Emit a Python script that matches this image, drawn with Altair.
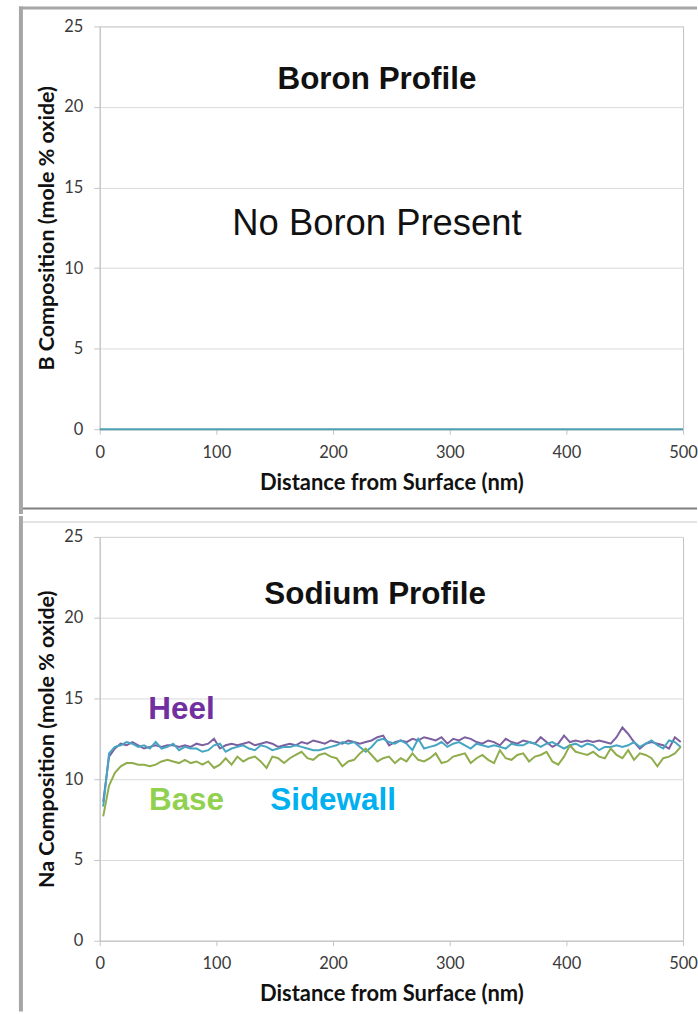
import altair as alt
import pandas as pd

# ---------------- data ----------------
distance_nm = [3, 8, 13, 18, 23, 28, 33, 38, 43, 48,
               53, 58, 63, 68, 73, 78, 83, 88, 93, 98,
               103, 108, 113, 118, 123, 128, 133, 138, 143, 148,
               153, 158, 163, 168, 173, 178, 183, 188, 193, 198,
               203, 208, 213, 218, 223, 228, 233, 238, 243, 248,
               253, 258, 263, 268, 273, 278, 283, 288, 293, 298,
               303, 308, 313, 318, 323, 328, 333, 338, 343, 348,
               353, 358, 363, 368, 373, 378, 383, 388, 393, 398,
               403, 408, 413, 418, 423, 428, 433, 438, 443, 448,
               453, 458, 463, 468, 473, 478, 483, 488, 493, 498]

heel = [8.6, 11.4, 11.9, 12.2, 12.1, 12.3, 12.1, 11.9, 12.0, 12.1,
        12.0, 12.1, 12.1, 12.0, 12.1, 12.0, 12.2, 12.1, 12.2, 12.5,
        11.9, 12.1, 12.2, 12.1, 12.2, 12.3, 12.1, 12.2, 12.3, 12.2,
        12.0, 12.1, 12.2, 12.1, 12.3, 12.2, 12.4, 12.3, 12.2, 12.4,
        12.3, 12.2, 12.4, 12.3, 12.2, 12.3, 12.4, 12.6, 12.7, 12.1,
        12.3, 12.4, 12.3, 12.5, 12.4, 12.6, 12.5, 12.4, 12.6, 12.2,
        12.5, 12.4, 12.6, 12.5, 12.3, 12.2, 12.4, 12.3, 12.1, 12.5,
        12.3, 12.2, 12.4, 12.3, 12.2, 12.6, 12.3, 12.0, 12.2, 12.7,
        12.3, 12.4, 12.3, 12.4, 12.3, 12.4, 12.3, 12.2, 12.6, 13.2,
        12.8, 12.3, 11.9, 12.2, 12.3, 12.2, 12.1, 11.9, 12.6, 12.3]

sidewall = [8.3, 11.6, 12.0, 12.1, 12.3, 12.2, 12.0, 12.1, 11.9, 12.3,
            11.9, 12.0, 12.2, 11.8, 12.0, 11.9, 11.9, 11.7, 11.8, 12.1,
            12.2, 11.7, 11.9, 12.0, 12.1, 11.9, 11.8, 12.1, 12.0, 11.8,
            11.9, 12.0, 12.0, 12.1, 12.0, 11.9, 11.8, 11.8, 11.9, 12.0,
            12.1, 12.3, 12.2, 12.3, 12.0, 11.7, 12.0, 12.4, 12.5, 12.3,
            12.2, 12.4, 12.2, 11.8, 12.5, 11.9, 12.0, 12.1, 12.3, 12.0,
            12.2, 12.3, 12.1, 11.9, 12.2, 12.1, 12.0, 12.1, 12.0, 11.9,
            12.2, 12.1, 12.1, 12.3, 12.2, 12.0, 12.2, 12.3, 12.1, 11.9,
            12.1, 12.2, 12.0, 12.2, 12.1, 11.8, 12.0, 12.0, 12.1, 12.0,
            12.1, 12.3, 12.0, 12.2, 12.4, 12.1, 11.9, 12.4, 12.3, 12.0]

base = [7.7, 9.6, 10.4, 10.8, 11.0, 11.0, 10.9, 10.9, 10.8, 10.9,
        11.1, 11.2, 11.1, 11.0, 11.2, 11.0, 11.1, 10.9, 11.1, 10.7,
        10.9, 11.3, 10.9, 11.4, 11.1, 11.3, 11.4, 11.1, 10.7, 11.4,
        11.3, 11.0, 11.3, 11.5, 11.7, 11.3, 11.2, 11.5, 11.6, 11.4,
        11.3, 10.8, 11.1, 11.2, 11.6, 11.9, 11.5, 11.1, 11.3, 11.4,
        11.0, 11.3, 11.1, 11.6, 11.2, 11.1, 11.3, 11.6, 11.0, 11.1,
        11.4, 11.5, 11.6, 11.0, 11.3, 11.5, 11.2, 11.0, 11.8, 11.3,
        11.2, 11.5, 11.6, 11.1, 11.4, 11.5, 11.7, 11.1, 10.9, 11.4,
        12.1, 11.7, 11.6, 11.5, 11.7, 11.4, 11.3, 11.9, 11.5, 11.3,
        11.8, 11.2, 11.6, 11.5, 11.3, 10.8, 11.3, 11.4, 11.6, 12.0]

boron_distance = [0, 500]
boron_value = [0, 0]

series_names = ["Heel", "Sidewall", "Base"]
line_colors = ["#7d60a0", "#45a5c2", "#8fad4c"]

x_ticks = [0, 100, 200, 300, 400, 500]
y_ticks = [0, 5, 10, 15, 20, 25]

# annotation texts (data coordinates)
top_texts = ["Boron Profile", "No Boron Present"]
top_text_x = [237.6, 237.6]
top_text_y = [21.66, 12.75]

na_title = ["Sodium Profile"]
na_title_x = [236.0]
na_title_y = [21.42]

label_texts = ["Heel", "Base", "Sidewall"]
label_x = [70.1, 74.4, 200.0]
label_y = [14.26, 8.64, 8.64]
label_colors = ["#7030a0", "#92d050", "#00b0f0"]

# ---------------- build ----------------
W = 585
H1 = 404
H2 = 405

na_df = pd.concat([
    pd.DataFrame({"distance": distance_nm, "value": heel, "series": "Heel"}),
    pd.DataFrame({"distance": distance_nm, "value": sidewall, "series": "Sidewall"}),
    pd.DataFrame({"distance": distance_nm, "value": base, "series": "Base"}),
], ignore_index=True)
na_df["order"] = na_df["series"].map({"Base": 0, "Sidewall": 1, "Heel": 2})

b_df = pd.DataFrame({"distance": boron_distance, "value": boron_value})

xscale = alt.Scale(domain=[0, 500], nice=False, zero=False)
yscale = alt.Scale(domain=[0, 25], nice=False)


def x_axis():
    return alt.Axis(values=x_ticks, title="Distance from Surface (nm)", grid=False,
                    domainColor="#c4c4c4", tickColor="#c4c4c4", tickSize=5,
                    labelFont="Lato", labelFontSize=16.5, labelColor="#3a3a3a",
                    labelPadding=10, labelFlush=False,
                    titleFont="Lato", titleFontSize=22, titleFontWeight="bold",
                    titleColor="#111111", titleX=W / 2, titleY=53,
                    titleBaseline="middle", titleAlign="center")


def y_axis(title, h):
    return alt.Axis(values=y_ticks, title=title, grid=True, gridColor="#d9d9d9",
                    domainColor="#c4c4c4", tickColor="#c4c4c4", tickSize=6,
                    labelFont="Lato", labelFontSize=16.5, labelColor="#3a3a3a",
                    labelPadding=11,
                    titleFont="Lato", titleFontSize=21.5, titleFontWeight="bold",
                    titleColor="#111111", titleX=-52, titleY=h / 2,
                    titleBaseline="middle", titleAlign="center")


one = pd.DataFrame({"k": [0]})


def bar(x1, x2, y1, y2, color):
    return alt.Chart(one).mark_rect(color=color).encode(
        x=alt.value(x1), x2=alt.value(x2), y=alt.value(y1), y2=alt.value(y2))


# --- Boron panel ---
b_line = alt.Chart(b_df).mark_line(color="#4f9fb0", strokeWidth=2).encode(
    x=alt.X("distance:Q", scale=xscale, axis=x_axis()),
    y=alt.Y("value:Q", scale=yscale, axis=y_axis("B Composition (mole % oxide)", H1)),
)

top_df = pd.DataFrame({"t": top_texts, "x": top_text_x, "y": top_text_y})
b_title = alt.Chart(top_df.iloc[[0]]).mark_text(
    font="Liberation Sans", fontSize=31.5, fontWeight="bold", color="#111111",
    align="center", baseline="middle").encode(
    x=alt.X("x:Q", scale=xscale), y=alt.Y("y:Q", scale=yscale), text="t:N")
b_note = alt.Chart(top_df.iloc[[1]]).mark_text(
    font="Liberation Sans", fontSize=36.5, fontWeight="normal", color="#111111",
    align="center", baseline="middle").encode(
    x=alt.X("x:Q", scale=xscale), y=alt.Y("y:Q", scale=yscale), text="t:N")

top_frame = alt.layer(
    bar(-81, 599, -20, -17, "#a6a6a6"),
    bar(-81, -77, -20, 489, "#a6a6a6"),
    bar(-77, 599, 482.5, 484.5, "#7f7f7f"),
)

chart1 = alt.layer(b_line, b_title, b_note, top_frame).properties(width=W, height=H1)

# --- Sodium panel ---
na_lines = alt.Chart(na_df).mark_line(strokeWidth=2).encode(
    x=alt.X("distance:Q", scale=xscale, axis=x_axis()),
    y=alt.Y("value:Q", scale=yscale, axis=y_axis("Na Composition (mole % oxide)", H2)),
    color=alt.Color("series:N", scale=alt.Scale(domain=series_names, range=line_colors), legend=None),
    order=alt.Order("order:Q"),
)

na_t_df = pd.DataFrame({"t": na_title, "x": na_title_x, "y": na_title_y})
na_t = alt.Chart(na_t_df).mark_text(
    font="Liberation Sans", fontSize=31.5, fontWeight="bold", color="#111111",
    align="center", baseline="middle").encode(
    x=alt.X("x:Q", scale=xscale), y=alt.Y("y:Q", scale=yscale), text="t:N")

lab_df = pd.DataFrame({"t": label_texts, "x": label_x, "y": label_y, "c": label_colors})
labs = alt.Chart(lab_df).mark_text(
    font="Liberation Sans", fontSize=31.5, fontWeight="bold",
    align="center", baseline="middle").encode(
    x=alt.X("x:Q", scale=xscale), y=alt.Y("y:Q", scale=yscale), text="t:N",
    color=alt.Color("c:N", scale=None))

bottom_frame = alt.layer(
    bar(-81, -77, -21, 476, "#a6a6a6"),
    bar(-77, 599, -16, -14, "#e4e4e4"),
)

chart2 = alt.layer(na_lines, na_t, labs, bottom_frame).properties(width=W, height=H2)

chart = alt.vconcat(chart1, chart2, spacing=0).resolve_scale(color="independent").configure(
    padding={"left": 18, "top": 4, "right": 0, "bottom": 0},
    background="white",
).configure_view(stroke="#c4c4c4")

chart.save("out.html", embed_options={"renderer": "svg", "actions": False})
